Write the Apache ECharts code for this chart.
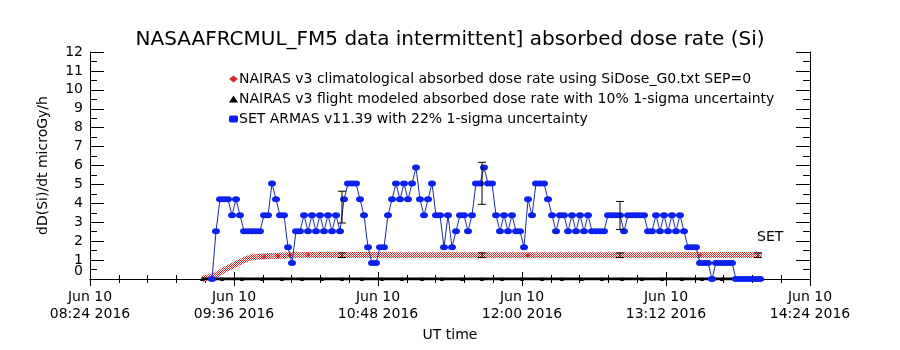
<!DOCTYPE html>
<html>
<head>
<meta charset="utf-8">
<script src="https://cdn.jsdelivr.net/npm/echarts@6/dist/echarts.min.js"></script>
<style>
    html, body {margin: 0; padding: 0; background: #fff;}
    #chart {width: 900px; height: 350px;}
</style>
</head>
<body>
<div id="chart"></div>
<script>
// times are UT on 10 Jun 2016, written HH:MM
const axisStart = '08:24';
const axisEnd = '14:24';
const axisStepMin = 72;
const yMin = 0;
const yMax = 12;

// NAIRAS v3 climatological (hatched red band)
const climTimes = ['09:20', '09:26', '09:31', '09:36', '09:41', '09:45', '09:52', '10:05', '10:20', '11:00', '12:00', '13:00', '14:00'];
const climValues = [0.0, 0.15, 0.48, 0.74, 1.0, 1.16, 1.2, 1.25, 1.28, 1.26, 1.26, 1.26, 1.27];
const climDotTimes = ['09:51', '09:58', '10:04', '10:13', '12:03', '13:29'];
const climDotValues = [1.16, 1.22, 1.25, 1.3, 1.25, 1.25];

// NAIRAS v3 flight modeled
const flightTimes = ['09:20', '09:30', '09:40', '09:50', '10:00', '10:10', '10:20', '10:30', '10:40', '10:50',
    '11:00', '11:10', '11:20', '11:30', '11:40', '11:50', '12:00', '12:10', '12:20', '12:30',
    '12:40', '12:50', '13:00', '13:10', '13:20', '13:30', '13:40', '13:50', '14:00'];
const flightValues = [0, 0, 0, 0, 0, 0, 0, 0, 0, 0, 0, 0, 0, 0, 0, 0, 0, 0, 0, 0, 0, 0, 0, 0, 0, 0, 0, 0, 0];

// SET ARMAS v11.39, one sample every 2 minutes
const armasStart = '09:25';
const armasStepMin = 2;
const armasValues = [
    0, 2.53, 4.21, 4.21, 4.21, 3.37, 4.21, 3.37, 2.53, 2.53,
    2.53, 2.53, 2.53, 3.37, 3.37, 5.05, 4.21, 3.37, 3.37, 1.68,
    0.84, 2.53, 2.53, 3.37, 2.53, 3.37, 2.53, 3.37, 2.53, 3.37,
    2.53, 3.37, 2.53, 4.21, 5.05, 5.05, 5.05, 4.21, 3.37, 1.68,
    0.84, 0.84, 1.68, 1.68, 3.37, 4.21, 5.05, 4.21, 5.05, 4.21,
    5.05, 5.89, 4.21, 3.37, 4.21, 5.05, 3.37, 3.37, 1.68, 3.37,
    1.68, 2.53, 3.37, 3.37, 2.53, 3.37, 5.05, 5.05, 5.89, 5.05,
    5.05, 3.37, 2.53, 3.37, 2.53, 3.37, 2.53, 2.53, 1.68, 4.21,
    3.37, 5.05, 5.05, 5.05, 4.21, 3.37, 2.53, 3.37, 3.37, 2.53,
    3.37, 2.53, 3.37, 2.53, 3.37, 2.53, 2.53, 2.53, 2.53, 3.37,
    3.37, 3.37, 3.37, 2.53, 3.37, 3.37, 3.37, 3.37, 3.37, 2.53,
    2.53, 3.37, 2.53, 3.37, 2.53, 3.37, 2.53, 3.37, 2.53, 1.68,
    1.68, 1.68, 0.84, 0.84, 0.84, 0, 0.84, 0.84, 0.84, 0.84,
    0.84, 0, 0, 0, 0, 0, 0, 0
];

// error bars: centre and half height
const armasErrTimes = ['10:30', '11:40', '12:49'];
const armasErrMid = [3.80, 5.06, 3.36];
const armasErrHalf = [0.84, 1.11, 0.74];
const climErrTimes = ['10:30', '11:40', '12:49', '13:58'];
const climErrMid = [1.26, 1.26, 1.26, 1.26];
const climErrHalf = [0.12, 0.12, 0.12, 0.12];

const names = [
    'NAIRAS v3 climatological absorbed dose rate using SiDose_G0.txt SEP=0',
    'NAIRAS v3 flight modeled absorbed dose rate with 10% 1-sigma uncertainty',
    'SET ARMAS v11.39 with 22% 1-sigma uncertainty'
];

const hm = (s) => {
    const p = s.split(':');
    return Number(p[0]) * 60 + Number(p[1]);
};
const pad = (n) => (n < 10 ? '0' : '') + n;

// red/white checker like the IDL hatch
const hatch = document.createElement('canvas');
hatch.width = 2;
hatch.height = 2;
const hc = hatch.getContext('2d');
hc.fillStyle = '#ffffff';
hc.fillRect(0, 0, 2, 2);
hc.fillStyle = '#d82828';
hc.fillRect(0, 0, 1, 1);
hc.fillRect(1, 1, 1, 1);
const hatchColor = {image: hatch, repeat: 'repeat'};

const font = 'DejaVu Sans';

const errorBar = (params, api) => {
    const x = api.value(0);
    const top = api.coord([x, api.value(2)]);
    const bot = api.coord([x, api.value(1)]);
    const w = 4;
    const st = {stroke: '#000', lineWidth: 1};
    return {
        type: 'group',
        children: [
            {type: 'line', shape: {x1: top[0], y1: top[1], x2: bot[0], y2: bot[1]}, style: st},
            {type: 'line', shape: {x1: top[0] - w, y1: top[1], x2: top[0] + w, y2: top[1]}, style: st},
            {type: 'line', shape: {x1: bot[0] - w, y1: bot[1], x2: bot[0] + w, y2: bot[1]}, style: st}
        ]
    };
};

const xBase = {
    type: 'value',
    min: hm(axisStart),
    max: hm(axisEnd),
    interval: axisStepMin,
    axisLine: {lineStyle: {color: '#000', width: 1}},
    axisTick: {inside: true, length: 7, lineStyle: {color: '#000'}},
    minorTick: {show: true, splitNumber: 5, length: 4, lineStyle: {color: '#000'}},
    splitLine: {show: false}
};
const yBase = {
    type: 'value',
    min: yMin,
    max: yMax,
    interval: 1,
    axisLine: {show: true, lineStyle: {color: '#000', width: 1}},
    axisTick: {show: true, inside: true, length: 14, lineStyle: {color: '#000'}},
    minorTick: {show: true, splitNumber: 2, length: 7, lineStyle: {color: '#000'}},
    splitLine: {show: false}
};

const chart = echarts.init(document.getElementById('chart'), null, {renderer: 'canvas'});
chart.setOption({
    animation: false,
    backgroundColor: '#fff',
    textStyle: {fontFamily: font, color: '#000'},
    title: {
        text: 'NASAAFRCMUL_FM5 data intermittent] absorbed dose rate (Si)',
        left: 'center',
        top: 25,
        textStyle: {fontFamily: font, fontSize: 20, fontWeight: 'normal', color: '#000'}
    },
    legend: {
        left: 224,
        top: 67,
        orient: 'vertical',
        itemWidth: 9,
        itemHeight: 7,
        itemGap: 6,
        selectedMode: false,
        textStyle: {fontFamily: font, fontSize: 14, color: '#000', padding: [0, 0, 0, -4]},
        data: [
            {name: names[0], icon: 'diamond', itemStyle: {color: '#d82828'}},
            {name: names[1], icon: 'triangle', itemStyle: {color: '#000'}},
            {name: names[2], icon: 'roundRect', itemStyle: {color: '#0a22f0'}}
        ]
    },
    grid: {left: 90, right: 90, top: 52, bottom: 71},
    xAxis: [
        Object.assign({}, xBase, {
            position: 'bottom',
            name: 'UT time',
            nameLocation: 'middle',
            nameGap: 45,
            nameTextStyle: {fontFamily: font, fontSize: 14, color: '#000'},
            axisLabel: {
                fontFamily: font, fontSize: 14, color: '#000', lineHeight: 17, margin: 10,
                showMinLabel: true, showMaxLabel: true,
                formatter: (v) => 'Jun 10\n' + pad(Math.floor(v / 60)) + ':' + pad(v % 60) + ' 2016'
            }
        }),
        Object.assign({}, xBase, {position: 'top', axisLabel: {show: false}})
    ],
    yAxis: [
        Object.assign({}, yBase, {
            position: 'left',
            name: 'dD(Si)/dt microGy/h',
            nameLocation: 'middle',
            nameGap: 40,
            nameTextStyle: {fontFamily: font, fontSize: 14, color: '#000'},
            axisLabel: {
                fontFamily: font, fontSize: 14, color: '#000', margin: 7,
                showMinLabel: false, showMaxLabel: true
            }
        }),
        Object.assign({}, yBase, {position: 'right', axisLabel: {show: false}})
    ],
    graphic: [
        {
            // IDL lifts the bottom "0" label off the axis corner
            type: 'text',
            right: 900 - 83,
            top: 264,
            style: {text: String(yMin), fontFamily: font, fontSize: 14, fill: '#000'}
        },
        {
            type: 'text',
            left: 757,
            top: 230,
            style: {text: 'SET', fontFamily: font, fontSize: 14, fill: '#000'}
        }
    ],
    series: [
        {
            name: names[0],
            type: 'line',
            data: climTimes.map((t, i) => [hm(t), climValues[i]]),
            symbol: 'none',
            itemStyle: {color: '#d82828'},
            lineStyle: {color: hatchColor, width: 6},
            z: 2
        },
        {
            name: names[0] + ' dots',
            type: 'scatter',
            data: climDotTimes.map((t, i) => [hm(t), climDotValues[i]]),
            symbol: 'diamond',
            symbolSize: 5,
            itemStyle: {color: '#e01010'},
            z: 3
        },
        {
            name: names[1],
            type: 'line',
            data: flightTimes.map((t, i) => [hm(t), flightValues[i]]),
            symbol: 'triangle',
            symbolSize: 4,
            showAllSymbol: true,
            itemStyle: {color: '#000'},
            lineStyle: {color: '#000', width: 3},
            z: 3
        },
        {
            name: names[2],
            type: 'line',
            data: armasValues.map((v, i) => [hm(armasStart) + i * armasStepMin, v]),
            symbol: 'circle',
            symbolSize: [8, 6],
            showAllSymbol: true,
            itemStyle: {color: '#0a22f0'},
            lineStyle: {color: '#1a2aa0', width: 1},
            z: 4
        },
        {
            name: 'clim err',
            type: 'custom',
            renderItem: errorBar,
            data: climErrTimes.map((t, i) => [hm(t), climErrMid[i] - climErrHalf[i], climErrMid[i] + climErrHalf[i]]),
            z: 5
        },
        {
            name: 'armas err',
            type: 'custom',
            renderItem: errorBar,
            data: armasErrTimes.map((t, i) => [hm(t), armasErrMid[i] - armasErrHalf[i], armasErrMid[i] + armasErrHalf[i]]),
            z: 5
        }
    ]
});
</script>
</body>
</html>
